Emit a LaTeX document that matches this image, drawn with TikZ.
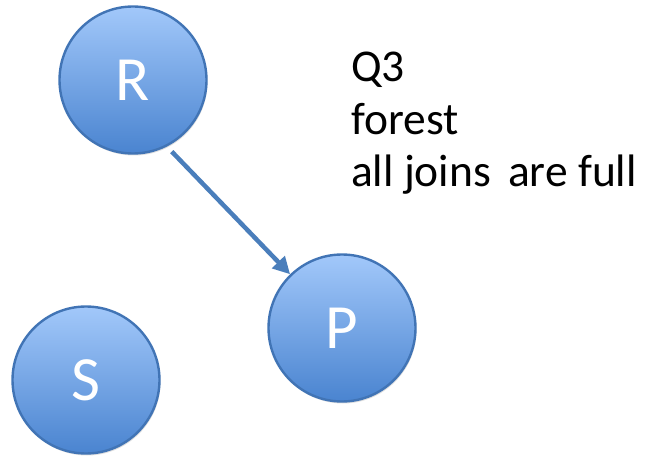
\documentclass[tikz,border=0pt]{standalone}
\usepackage{fontspec}
\setmainfont{Carlito}
\usetikzlibrary{arrows.meta,shadows}
\definecolor{ringc}{HTML}{4174B5}
\definecolor{topc}{HTML}{A2C8FA}
\definecolor{botc}{HTML}{4A84D0}
\definecolor{arrowc}{HTML}{4A7EBB}
\tikzset{
  vert/.style={circle, minimum size=147pt, inner sep=0pt, draw=ringc, line width=2.4pt,
    top color=topc, bottom color=botc, text=white,
    font=\fontsize{63}{63}\selectfont,
    drop shadow={shadow xshift=1pt, shadow yshift=-2pt, opacity=0.25}},
  edge/.style={draw=arrowc, line width=4.5pt, -{Triangle[length=17pt,width=17pt]}},
  note/.style={align=left, anchor=base west, inner sep=0pt, font=\fontsize{45.5}{52.5}\selectfont}
}
\begin{document}
\begin{tikzpicture}[x=1pt,y=-1pt]
\useasboundingbox (0,0) rectangle (645,457);
\node[vert] (R) at (133,80) {R};
\node[vert] (P) at (342,328) {P};
\node[vert] (S) at (86,380) {S};
\draw[edge, shorten <=7pt] (R.-63) -- (P.134);
\node[note] (T) at (351,187) {Q3\\forest\\all joins\hspace{0.15em} are full};
\end{tikzpicture}
\end{document}
